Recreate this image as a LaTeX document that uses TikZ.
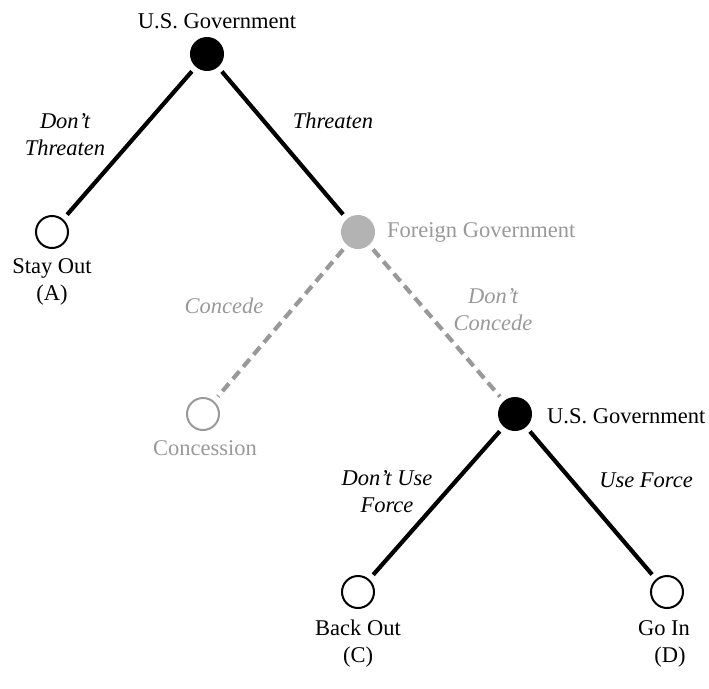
\documentclass[tikz,border=0pt]{standalone}
\usepackage{fontspec}
\setmainfont{Liberation Serif}
\definecolor{fgray}{HTML}{B3B3B3}
\definecolor{tgray}{HTML}{999999}
\begin{document}
\begin{tikzpicture}[x=1pt,y=-1pt,
  every node/.style={font=\fontsize{22.5}{27}\selectfont},
  dot/.style={circle,minimum size=32pt,inner sep=0pt,outer sep=0pt,line width=2pt},
  blackdot/.style={dot,draw=black,fill=black},
  opendot/.style={dot,draw=black,fill=white},
  graydot/.style={dot,draw=fgray,fill=fgray},
  grayopen/.style={dot,draw=tgray,fill=white},
  edge/.style={line width=4.2pt,shorten <=7pt,shorten >=7pt},
  dedge/.style={edge,draw=tgray,dash pattern=on 10pt off 6pt},
  lab/.style={anchor=base,align=center,inner sep=0pt,font=\fontsize{22.5}{27}\selectfont\itshape},
  txt/.style={anchor=base,align=center,inner sep=0pt}
]
\useasboundingbox (0,0) rectangle (709,688);
\node[blackdot] (r) at (207,54) {};
\node[opendot] (a) at (52,232) {};
\node[graydot] (f) at (358,232) {};
\node[grayopen] (b) at (203,414) {};
\node[blackdot] (u) at (515,414) {};
\node[opendot] (c) at (358,592) {};
\node[opendot] (d) at (667,592) {};

\draw[edge] (r) -- (a);
\draw[edge] (r) -- (f);
\draw[dedge] (f) -- (b);
\draw[dedge] (f) -- (u);
\draw[edge] (u) -- (c);
\draw[edge] (u) -- (d);

\node[txt] (tr) at (217,28) {U.S. Government};
\node[txt] (ta) at (52,300) {Stay Out\\(A)};
\node[txt,anchor=base west,text=tgray] (tf) at (387,237) {Foreign Government};
\node[txt,text=tgray] (tb) at (205,455) {Concession};
\node[txt,anchor=base west] (tu) at (547,423) {U.S. Government};
\node[txt] (tc) at (358,662) {Back Out\\(C)};
\node[txt] (td) at (664,662) {Go In\\\hspace*{12pt}(D)};

\node[lab] (l1) at (65,155) {Don't\\Threaten};
\node[lab] (l2) at (333,128) {Threaten};
\node[lab,text=tgray] (l3) at (224,313) {Concede};
\node[lab,text=tgray] (l4) at (493,330) {Don't\\Concede};
\node[lab] (l5) at (387,512) {Don't Use\\Force};
\node[lab] (l6) at (646,487) {Use Force};
\end{tikzpicture}
\end{document}
